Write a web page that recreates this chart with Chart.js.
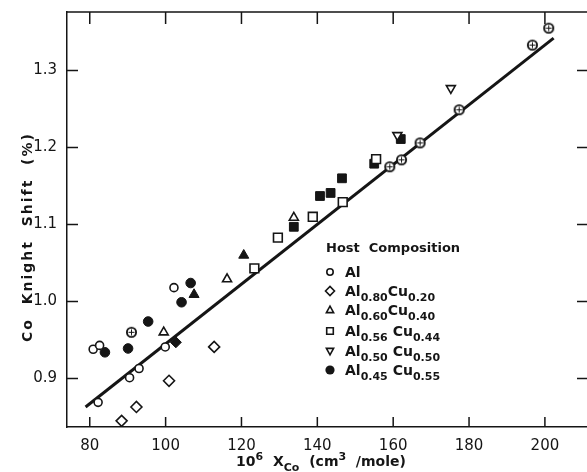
<!DOCTYPE html>
<html>
<head>
<meta charset="utf-8">
<script src="https://cdn.jsdelivr.net/npm/chart.js@4.4.0/dist/chart.umd.min.js"></script>
<style>
html,body{margin:0;padding:0;background:#fff}
#wrap{width:587px;height:472px}
</style>
</head>
<body>
<div id="wrap"><canvas id="myChart"></canvas></div>
<script>
// tick values
var xTicks = [80, 100, 120, 140, 160, 180, 200];
var yTicks = [0.9, 1.0, 1.1, 1.2, 1.3];

// Al (open circles)
var alX = [80.9, 82.6, 102.2, 99.9, 93.0, 90.5, 82.2];
var alY = [0.938, 0.943, 1.018, 0.941, 0.913, 0.901, 0.869];
// crossed circles
var cxX = [91.0, 159.1, 162.2, 167.1, 177.4, 196.7, 201.0];
var cxY = [0.960, 1.175, 1.184, 1.206, 1.249, 1.333, 1.355];
// Al0.80Cu0.20 (open diamonds) + one filled
var dX = [88.4, 92.3, 100.9, 112.8];
var dY = [0.845, 0.863, 0.897, 0.941];
var dfX = [102.7];
var dfY = [0.947];
// Al0.60Cu0.40 (triangles)
var tX = [99.5, 116.2, 133.8];
var tY = [0.960, 1.029, 1.109];
var tfX = [107.5, 120.6];
var tfY = [1.009, 1.060];
// Al0.56Cu0.44 (squares)
var sX = [123.4, 129.6, 138.8, 146.7, 155.5];
var sY = [1.043, 1.083, 1.110, 1.129, 1.185];
var sfX = [133.8, 140.7, 143.5, 146.5, 155.0, 162.0];
var sfY = [1.097, 1.137, 1.141, 1.160, 1.179, 1.211];
// Al0.50Cu0.50 (inverted triangles)
var vX = [161.1, 175.2];
var vY = [1.216, 1.277];
// Al0.45Cu0.55 (filled circles)
var fX = [84.0, 90.1, 95.4, 104.2, 106.6];
var fY = [0.934, 0.939, 0.974, 0.999, 1.024];
// fitted line
var fitX = [78.9, 202.3];
var fitY = [0.863, 1.342];

var legendTitle = 'Host  Composition';
var legendRows = [
  [['Al', 0]],
  [['Al', 0], ['0.80', 1], ['Cu', 0], ['0.20', 1]],
  [['Al', 0], ['0.60', 1], ['Cu', 0], ['0.40', 1]],
  [['Al', 0], ['0.56', 1], [' Cu', 0], ['0.44', 1]],
  [['Al', 0], ['0.50', 1], [' Cu', 0], ['0.50', 1]],
  [['Al', 0], ['0.45', 1], [' Cu', 0], ['0.55', 1]]
];
var legendSyms = ['circle', 'diamond', 'triangle', 'square', 'down', 'dot'];

var ink = '#151515';

function pts(xs, ys){
  return xs.map(function(x, i){ return {x: x, y: ys[i]}; });
}

function crossCircle(){
  var c = document.createElement('canvas');
  c.width = 13; c.height = 13;
  var g = c.getContext('2d');
  g.fillStyle = '#fff';
  g.strokeStyle = ink;
  g.lineWidth = 1.9;
  g.beginPath(); g.arc(6.5, 6.5, 4.6, 0, 2 * Math.PI); g.fill(); g.stroke();
  g.lineWidth = 1;
  g.beginPath();
  g.moveTo(6.5, 3.5); g.lineTo(6.5, 9.5);
  g.moveTo(3.5, 6.5); g.lineTo(9.5, 6.5);
  g.stroke();
  return c;
}

function sym(ctx, type, x, y){
  ctx.save();
  ctx.strokeStyle = ink; ctx.fillStyle = ink; ctx.lineWidth = 1.6;
  ctx.beginPath();
  if (type == 'circle') { ctx.arc(x, y, 3.2, 0, 2 * Math.PI); ctx.stroke(); }
  if (type == 'dot') { ctx.arc(x, y, 4.6, 0, 2 * Math.PI); ctx.fill(); }
  if (type == 'diamond') { ctx.moveTo(x - 4.5, y); ctx.lineTo(x, y - 4.5); ctx.lineTo(x + 4.5, y); ctx.lineTo(x, y + 4.5); ctx.closePath(); ctx.stroke(); }
  if (type == 'triangle') { ctx.moveTo(x, y - 3.8); ctx.lineTo(x + 3.6, y + 2.6); ctx.lineTo(x - 3.6, y + 2.6); ctx.closePath(); ctx.stroke(); }
  if (type == 'down') { ctx.moveTo(x, y + 3.8); ctx.lineTo(x + 3.6, y - 2.6); ctx.lineTo(x - 3.6, y - 2.6); ctx.closePath(); ctx.stroke(); }
  if (type == 'square') { ctx.rect(x - 3.3, y - 3.3, 6.6, 6.6); ctx.stroke(); }
  ctx.restore();
}

function drawPieces(ctx, pieces, x, y, mainFont, subFont, subDy){
  pieces.forEach(function(p){
    ctx.font = p[1] ? subFont : mainFont;
    var dy = p[1] == 1 ? subDy : (p[1] == 2 ? -6 : 0);
    ctx.fillText(p[0], x, y + dy);
    x += ctx.measureText(p[0]).width;
  });
  return x;
}

var decor = {
  id: 'decor',
  afterDraw: function(chart){
    var ctx = chart.ctx, a = chart.chartArea;
    var xs = chart.scales.x, ys = chart.scales.y;
    ctx.save();
    ctx.strokeStyle = ink;
    ctx.lineWidth = 1.5;
    ctx.beginPath();
    ctx.moveTo(a.left, a.top); ctx.lineTo(a.right, a.top);
    xTicks.forEach(function(v){
      var p = xs.getPixelForValue(v);
      ctx.moveTo(p, a.bottom); ctx.lineTo(p, a.bottom - 10);
      ctx.moveTo(p, a.top); ctx.lineTo(p, a.top + 12);
    });
    yTicks.forEach(function(v){
      var p = ys.getPixelForValue(v);
      ctx.moveTo(a.left, p); ctx.lineTo(a.left + 11, p);
      ctx.moveTo(a.right, p); ctx.lineTo(a.right - 10, p);
    });
    ctx.stroke();

    // legend
    ctx.fillStyle = ink;
    ctx.textBaseline = 'alphabetic';
    ctx.textAlign = 'left';
    ctx.font = 'bold 13px "DejaVu Sans"';
    ctx.fillText(legendTitle, 326, 252);
    var rowY = [272, 291, 310, 331, 351, 370];
    legendRows.forEach(function(row, i){
      sym(ctx, legendSyms[i], 330, rowY[i]);
      drawPieces(ctx, row, 345, rowY[i] + 5, 'bold 14px "DejaVu Sans"', 'bold 11px "DejaVu Sans"', 5);
    });

    // x title
    var xt = [['10', 0], ['6', 2], ['  X', 0], ['Co', 1], ['  (cm', 0], ['3', 2], ['  /mole)', 0]];
    var w = 0;
    xt.forEach(function(p){ ctx.font = p[1] ? 'bold 11px "DejaVu Sans"' : 'bold 14px "DejaVu Sans"'; w += ctx.measureText(p[0]).width; });
    drawPieces(ctx, xt, 321 - w / 2, 466, 'bold 14px "DejaVu Sans"', 'bold 11px "DejaVu Sans"', 5);

    // y title
    ctx.translate(28, 237);
    ctx.rotate(-Math.PI / 2);
    ctx.textAlign = 'center';
    ctx.textBaseline = 'middle';
    ctx.font = 'bold 14px "DejaVu Sans"';
    ctx.letterSpacing = '2px';
    ctx.fillText('Co  Knight  Shift  (%)', 0, 0);
    ctx.restore();
  }
};

window.onload = function(){
  var ctx = document.getElementById('myChart');
  var cc = crossCircle();
  var open = {borderColor: ink, backgroundColor: '#fff', borderWidth: 1.6};
  var solid = {borderColor: ink, backgroundColor: ink, borderWidth: 1};

  new Chart(ctx, {
    type: 'scatter',
    data: {
      datasets: [
        Object.assign({data: pts(vX, vY), pointStyle: 'triangle', rotation: 180, pointRadius: 5.2}, open),
        Object.assign({data: pts(tX, tY), pointStyle: 'triangle', pointRadius: 5.2}, open),
        Object.assign({data: pts(sX, sY), pointStyle: 'rect', pointRadius: 6.2}, open),
        Object.assign({data: pts(sfX, sfY), pointStyle: 'rect', pointRadius: 6.2}, solid),
        Object.assign({data: pts(tfX, tfY), pointStyle: 'triangle', pointRadius: 5.8}, solid),
        Object.assign({data: pts(alX, alY), pointStyle: 'circle', pointRadius: 4}, open),
        Object.assign({data: pts(fX, fY), pointStyle: 'circle', pointRadius: 4.8}, solid),
        Object.assign({data: pts(dX, dY), pointStyle: 'rectRot', pointRadius: 5.5}, open),
        Object.assign({data: pts(dfX, dfY), pointStyle: 'rectRot', pointRadius: 5.5}, solid),
        {data: pts(cxX, cxY), pointStyle: cc, pointRadius: 6},
        {data: pts(fitX, fitY), showLine: true, pointRadius: 0, borderColor: ink, borderWidth: 3}
      ]
    },
    options: {
      responsive: true,
      maintainAspectRatio: false,
      animation: false,
      layout: {autoPadding: false, padding: {top: 12, right: 0, left: 0, bottom: 0}},
      plugins: {legend: {display: false}, tooltip: {enabled: false}},
      scales: {
        x: {
          type: 'linear', min: 74, max: 211.1,
          afterBuildTicks: function(s){ s.ticks = xTicks.map(function(v){ return {value: v}; }); },
          afterFit: function(s){ s.height = 45; s.paddingLeft = 0; s.paddingRight = 0; },
          grid: {display: false, drawTicks: false},
          border: {display: true, color: ink, width: 1.5},
          ticks: {padding: 10, color: ink, maxRotation: 0, font: {family: 'DejaVu Sans', size: 15}, callback: function(v){ return String(v); }}
        },
        y: {
          type: 'linear', min: 0.837, max: 1.376,
          afterBuildTicks: function(s){ s.ticks = yTicks.map(function(v){ return {value: v}; }); },
          afterFit: function(s){ s.width = 67; s.paddingTop = 0; s.paddingBottom = 0; },
          grid: {display: false, drawTicks: false},
          border: {display: true, color: ink, width: 1.5},
          ticks: {padding: 10, color: ink, font: {family: 'DejaVu Sans', size: 15}, callback: function(v){ return v.toFixed(1); }}
        }
      }
    },
    plugins: [decor]
  });
};
</script>
</body>
</html>
